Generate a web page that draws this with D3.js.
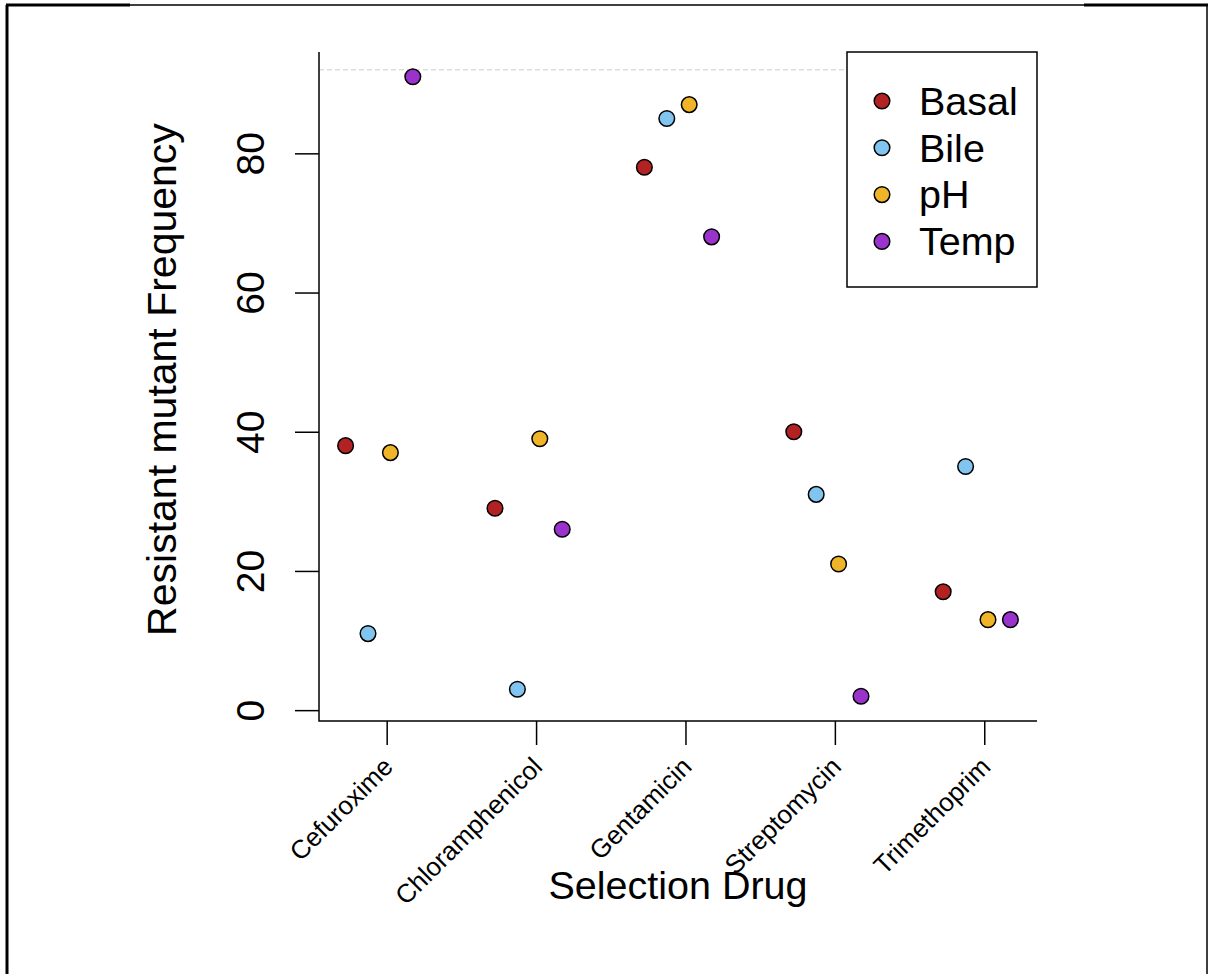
<!DOCTYPE html>
<html>
<head>
<meta charset="utf-8">
<script src="https://cdn.jsdelivr.net/npm/d3@7"></script>
<style>
  body { margin: 0; background: white; }
  text { font-family: "Liberation Sans", Arial, sans-serif; }
</style>
</head>
<body>
<div id="container"></div>
<script>
let w = 1209;
let h = 974;

// data
let drugs = ["Cefuroxime", "Chloramphenicol", "Gentamicin", "Streptomycin", "Trimethoprim"];
let conditions = ["Basal", "Bile", "pH", "Temp"];
let basal = [38, 29, 78, 40, 17];
let bile = [11, 3, 85, 31, 35];
let ph = [37, 39, 87, 21, 13];
let temp = [91, 26, 68, 2, 13];
let yTicks = [0, 20, 40, 60, 80];
let refLine = 92;

let colors = ["#B22222", "#80C4EF", "#F0B428", "#9A33CC"];
let offsets = [-0.275, -0.125, 0.025, 0.175];

let viz = d3.select("#container")
  .append("svg")
    .attr("width", w)
    .attr("height", h)
    .style("background-color", "white");

// outer frame
viz.append("path")
  .attr("d", "M7,974 L7,5 L1207,5 L1207,974")
  .attr("fill", "none")
  .attr("stroke", "black")
  .attr("stroke-width", 1.5);
viz.append("line").attr("x1", 6).attr("x2", 130).attr("y1", 5).attr("y2", 5)
  .attr("stroke", "black").attr("stroke-width", 3);
viz.append("line").attr("x1", 1084).attr("x2", 1208).attr("y1", 5).attr("y2", 5)
  .attr("stroke", "black").attr("stroke-width", 3);
viz.append("line").attr("x1", 7).attr("x2", 7).attr("y1", 5).attr("y2", 974)
  .attr("stroke", "black").attr("stroke-width", 3);

let series = [basal, bile, ph, temp];
let points = [];
series.forEach(function(vals, s){
  vals.forEach(function(v, i){
    points.push({drug: i + 1 + offsets[s], value: v, cond: s});
  });
});

// R style 4% padding
let xs = points.map(d => d.drug);
let ys = points.map(d => d.value);
let xPad = (d3.max(xs) - d3.min(xs)) * 0.04;
let yPad = (d3.max(ys) - d3.min(ys)) * 0.04;

let pLeft = 319, pRight = 1037, pTop = 52, pBottom = 721;
let xScale = d3.scaleLinear().domain([d3.min(xs) - xPad, d3.max(xs) + xPad]).range([pLeft, pRight]);
let yScale = d3.scaleLinear().domain([d3.min(ys) - yPad, d3.max(ys) + yPad]).range([pBottom, pTop]);

// dashed reference line
viz.append("line")
  .attr("x1", pLeft).attr("x2", pRight)
  .attr("y1", yScale(refLine)).attr("y2", yScale(refLine))
  .attr("stroke", "#cccccc")
  .attr("stroke-width", 1)
  .attr("stroke-dasharray", "5,3");

// y axis
let yAxis = viz.append("g")
  .attr("transform", "translate(" + pLeft + ",0)")
  .call(d3.axisLeft(yScale).tickValues(yTicks).tickSize(24).tickFormat(d3.format("d")));
yAxis.select(".domain").remove();
yAxis.selectAll("line").attr("stroke", "black").attr("stroke-width", 1.5);
yAxis.selectAll("text").remove();
yAxis.selectAll(".tick").append("text")
  .attr("transform", "translate(-55,0) rotate(-90)")
  .attr("text-anchor", "middle")
  .attr("fill", "black")
  .style("font-size", "39px")
  .text(d => d);

// x axis
let xAxis = viz.append("g")
  .attr("transform", "translate(0," + pBottom + ")")
  .call(d3.axisBottom(xScale).tickValues([1, 2, 3, 4, 5]).tickSize(24).tickFormat(""));
xAxis.select(".domain").remove();
xAxis.selectAll("line").attr("stroke", "black").attr("stroke-width", 1.5);
xAxis.selectAll(".tick").append("text")
  .attr("transform", "translate(1,41) rotate(-45)")
  .attr("text-anchor", "end")
  .attr("dominant-baseline", "central")
  .attr("fill", "black")
  .style("font-size", "26px")
  .text((d, i) => drugs[i]);

// L shaped box
viz.append("path")
  .attr("d", "M" + pLeft + "," + pTop + " L" + pLeft + "," + pBottom + " L" + pRight + "," + pBottom)
  .attr("fill", "none")
  .attr("stroke", "black")
  .attr("stroke-width", 1.5);

// points
viz.selectAll(".pt").data(points).enter()
  .append("circle")
    .attr("class", "pt")
    .attr("cx", d => xScale(d.drug))
    .attr("cy", d => yScale(d.value))
    .attr("r", 7.8)
    .attr("fill", d => colors[d.cond])
    .attr("stroke", "black")
    .attr("stroke-width", 1.5);

// axis titles
viz.append("text")
  .attr("x", (pLeft + pRight) / 2)
  .attr("y", 899)
  .attr("text-anchor", "middle")
  .style("font-size", "39.5px")
  .text("Selection Drug");

viz.append("text")
  .attr("transform", "translate(176," + ((pTop + pBottom) / 2 - 7) + ") rotate(-90)")
  .attr("text-anchor", "middle")
  .style("font-size", "41px")
  .text("Resistant mutant Frequency");

// legend
let legend = viz.append("g");
legend.append("rect")
  .attr("x", 847).attr("y", pTop)
  .attr("width", pRight - 847).attr("height", 235)
  .attr("fill", "white")
  .attr("stroke", "black")
  .attr("stroke-width", 1.5);
let items = legend.selectAll(".item").data(conditions).enter()
  .append("g")
    .attr("class", "item")
    .attr("transform", (d, i) => "translate(882," + (101 + i * 46.8) + ")");
items.append("circle")
  .attr("r", 7.8)
  .attr("fill", (d, i) => colors[i])
  .attr("stroke", "black")
  .attr("stroke-width", 1.5);
items.append("text")
  .attr("x", 37)
  .attr("dy", "0.35em")
  .style("font-size", "39.5px")
  .text(d => d);
</script>
</body>
</html>
